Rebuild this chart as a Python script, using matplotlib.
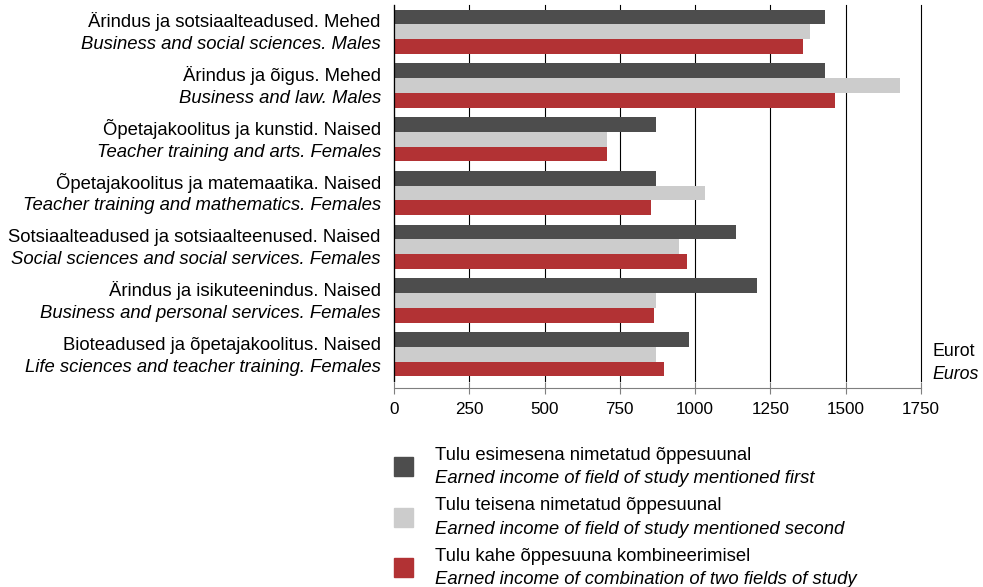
import matplotlib.pyplot as plt
from matplotlib.patches import Rectangle
import numpy as np

plt.rcParams['font.family'] = ['Liberation Sans', 'DejaVu Sans']

labels_et = [
    "Ärindus ja sotsiaalteadused. Mehed",
    "Ärindus ja õigus. Mehed",
    "Õpetajakoolitus ja kunstid. Naised",
    "Õpetajakoolitus ja matemaatika. Naised",
    "Sotsiaalteadused ja sotsiaalteenused. Naised",
    "Ärindus ja isikuteenindus. Naised",
    "Bioteadused ja õpetajakoolitus. Naised",
]
labels_en = [
    "Business and social sciences. Males",
    "Business and law. Males",
    "Teacher training and arts. Females",
    "Teacher training and mathematics. Females",
    "Social sciences and social services. Females",
    "Business and personal services. Females",
    "Life sciences and teacher training. Females",
]
first_field = [1430, 1430, 869, 869, 1135, 1205, 978]
second_field = [1381, 1680, 706, 1032, 948, 871, 869]
combined = [1358, 1463, 706, 855, 972, 865, 895]

series_names = [
    ("Tulu esimesena nimetatud õppesuunal", "Earned income of field of study mentioned first"),
    ("Tulu teisena nimetatud õppesuunal", "Earned income of field of study mentioned second"),
    ("Tulu kahe õppesuuna kombineerimisel", "Earned income of combination of two fields of study"),
]
colors = ['#4d4d4d', '#cccccc', '#b23234']
xticks = [0, 250, 500, 750, 1000, 1250, 1500, 1750]

fs = 13.3

fig = plt.figure(figsize=(9.83, 5.87), dpi=100)
ax = fig.add_axes([394 / 983, 1 - 381 / 587, (921 - 394) / 983, (381 - 5) / 587])

y = np.arange(len(labels_et))
h = 0.275
for k, (vals, col) in enumerate(zip([first_field, second_field, combined], colors)):
    ax.barh(y + (k - 1) * h, vals, height=h, color=col, zorder=2)

ax.set_ylim(len(labels_et) - 0.5, -0.5)
ax.set_xlim(0, 1750)

for s in ['top', 'right']:
    ax.spines[s].set_visible(False)
ax.spines['left'].set_color('black')
ax.spines['left'].set_linewidth(0.9)
ax.spines['left'].set_zorder(3)
ax.spines['bottom'].set_position(('outward', 5))
ax.spines['bottom'].set_color('#7f7f7f')

ax.set_xticks(xticks)
ax.set_xticklabels([str(t) for t in xticks])
ax.set_yticks([])
ax.tick_params(axis='x', direction='inout', length=8, color='#7f7f7f', pad=6,
               labelsize=12.3)
ax.xaxis.grid(True, color='black', linewidth=0.8, zorder=0)
ax.set_axisbelow(True)
for gl in ax.xaxis.get_gridlines():
    gl.set_clip_on(False)

trans = ax.get_yaxis_transform()
for i, (et, en) in enumerate(zip(labels_et, labels_en)):
    ax.text(-0.025, i - 0.083, et, transform=trans, ha='right', va='baseline', fontsize=fs)
    ax.text(-0.025, i + 0.324, en, transform=trans, ha='right', va='baseline',
            fontsize=fs, style='italic')

fig.text(932 / 983, 1 - 356 / 587, "Eurot", fontsize=12.8, ha='left', va='baseline')
fig.text(932 / 983, 1 - 379 / 587, "Euros", fontsize=12.8, ha='left', va='baseline',
         style='italic')

# legend
for k, ((et, en), col) in enumerate(zip(series_names, colors)):
    top = 457 + k * 50.5
    fig.add_artist(Rectangle((394 / 983, 1 - (top + 19) / 587), 19 / 983, 19 / 587,
                             transform=fig.transFigure, color=col))
    fig.text(435 / 983, 1 - (top + 3) / 587, et, fontsize=fs, ha='left', va='baseline')
    fig.text(435 / 983, 1 - (top + 26) / 587, en, fontsize=fs, ha='left', va='baseline',
             style='italic')

fig.savefig('out.png', dpi=100)
